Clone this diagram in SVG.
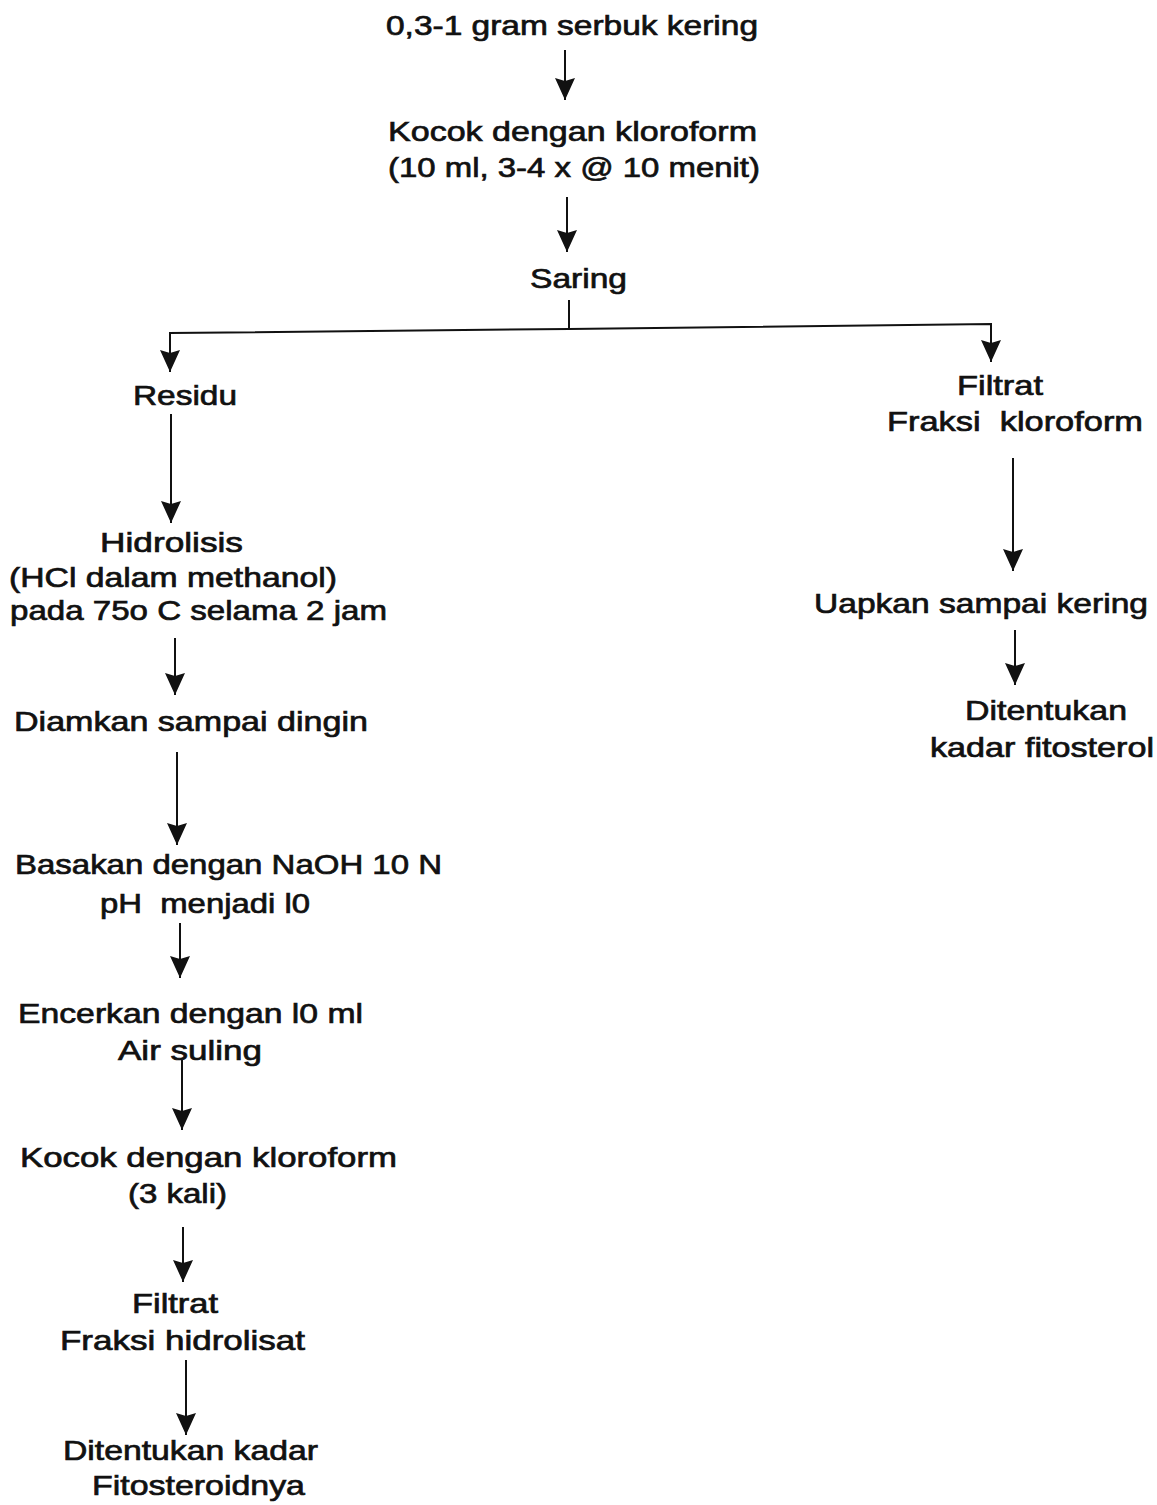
<svg xmlns="http://www.w3.org/2000/svg" width="1157" height="1505" viewBox="0 0 1157 1505">
<defs>
<style>
text{font-family:"Liberation Sans",Arial,sans-serif;font-size:28px;fill:#111;stroke:#111;stroke-width:0.7;}
.c{fill:none;stroke:#111;stroke-width:2;}
</style>
<marker id="ah" markerUnits="userSpaceOnUse" markerWidth="22" markerHeight="20" refX="22" refY="10" orient="auto">
<path d="M0,0 L22,10 L0,20 L3,10 z" fill="#111"/>
</marker>
</defs>
<rect width="1157" height="1505" fill="#fff"/>
<g id="connectors">
<path class="c" d="M565,50 L565,100" marker-end="url(#ah)"/>
<path class="c" d="M567,197 L567,252" marker-end="url(#ah)"/>
<path class="c" d="M569,300 L569,329"/>
<path class="c" d="M569,329 L170,333 L170,372" marker-end="url(#ah)"/>
<path class="c" d="M569,329 L991,324 L991,362" marker-end="url(#ah)"/>
<path class="c" d="M171,414 L171,523" marker-end="url(#ah)"/>
<path class="c" d="M175,638 L175,695" marker-end="url(#ah)"/>
<path class="c" d="M177,752 L177,845" marker-end="url(#ah)"/>
<path class="c" d="M180,923 L180,978" marker-end="url(#ah)"/>
<path class="c" d="M182,1060 L182,1130" marker-end="url(#ah)"/>
<path class="c" d="M183,1227 L183,1282" marker-end="url(#ah)"/>
<path class="c" d="M186,1360 L186,1435" marker-end="url(#ah)"/>
<path class="c" d="M1013,458 L1013,571" marker-end="url(#ah)"/>
<path class="c" d="M1015,630 L1015,685" marker-end="url(#ah)"/>
</g>
<g id="n1"><text x="386" y="35" textLength="372" lengthAdjust="spacingAndGlyphs">0,3-1 gram serbuk kering</text></g>
<g id="n2"><text x="388" y="141" textLength="369" lengthAdjust="spacingAndGlyphs">Kocok dengan kloroform</text><text x="388" y="177" textLength="372" lengthAdjust="spacingAndGlyphs">(10 ml, 3-4 x @ 10 menit)</text></g>
<g id="n3"><text x="530" y="288" textLength="97" lengthAdjust="spacingAndGlyphs">Saring</text></g>
<g id="n4"><text x="133" y="405" textLength="104" lengthAdjust="spacingAndGlyphs">Residu</text></g>
<g id="n5"><text x="100" y="552" textLength="143" lengthAdjust="spacingAndGlyphs">Hidrolisis</text><text x="9" y="587" textLength="328" lengthAdjust="spacingAndGlyphs">(HCl dalam methanol)</text><text x="10" y="620" textLength="377" lengthAdjust="spacingAndGlyphs">pada 75o C selama 2 jam</text></g>
<g id="n6"><text x="14" y="731" textLength="354" lengthAdjust="spacingAndGlyphs">Diamkan sampai dingin</text></g>
<g id="n7"><text x="15" y="874" textLength="427" lengthAdjust="spacingAndGlyphs">Basakan dengan NaOH 10 N</text><text x="100" y="913" textLength="210" lengthAdjust="spacingAndGlyphs" xml:space="preserve">pH  menjadi l0</text></g>
<g id="n8"><text x="18" y="1023" textLength="345" lengthAdjust="spacingAndGlyphs">Encerkan dengan l0 ml</text><text x="118" y="1060" textLength="144" lengthAdjust="spacingAndGlyphs">Air suling</text></g>
<g id="n9"><text x="20" y="1167" textLength="377" lengthAdjust="spacingAndGlyphs">Kocok dengan kloroform</text><text x="128" y="1203" textLength="99" lengthAdjust="spacingAndGlyphs">(3 kali)</text></g>
<g id="n10"><text x="132" y="1313" textLength="86" lengthAdjust="spacingAndGlyphs">Filtrat</text><text x="60" y="1350" textLength="245" lengthAdjust="spacingAndGlyphs">Fraksi hidrolisat</text></g>
<g id="n11"><text x="63" y="1460" textLength="255" lengthAdjust="spacingAndGlyphs">Ditentukan kadar</text><text x="92" y="1495" textLength="213" lengthAdjust="spacingAndGlyphs">Fitosteroidnya</text></g>
<g id="n12"><text x="957" y="395" textLength="86" lengthAdjust="spacingAndGlyphs">Filtrat</text><text x="887" y="431" textLength="256" lengthAdjust="spacingAndGlyphs" xml:space="preserve">Fraksi  kloroform</text></g>
<g id="n13"><text x="814" y="613" textLength="334" lengthAdjust="spacingAndGlyphs">Uapkan sampai kering</text></g>
<g id="n14"><text x="965" y="720" textLength="162" lengthAdjust="spacingAndGlyphs">Ditentukan</text><text x="930" y="757" textLength="224" lengthAdjust="spacingAndGlyphs">kadar fitosterol</text></g>
</svg>
